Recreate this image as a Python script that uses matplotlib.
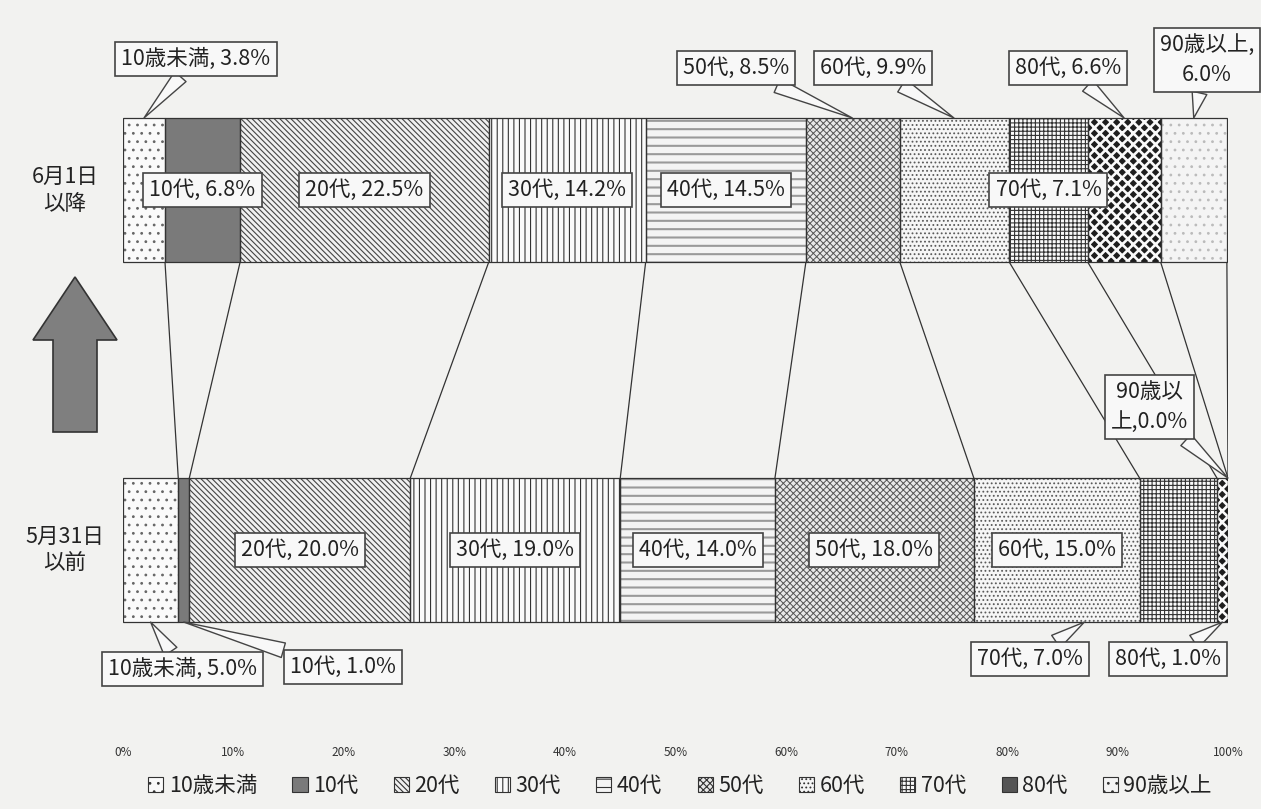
import matplotlib
matplotlib.use("Agg")
import matplotlib.pyplot as plt
from matplotlib.patches import Patch, Polygon
import numpy as np

plt.rcParams['font.family'] = ['Noto Sans CJK JP', 'DejaVu Sans']
plt.rcParams['hatch.linewidth'] = 0.8

# ---- data ----
categories = ['10歳未満', '10代', '20代', '30代', '40代', '50代', '60代', '70代', '80代', '90歳以上']
after_vals = [3.8, 6.8, 22.5, 14.2, 14.5, 8.5, 9.9, 7.1, 6.6, 6.0]     # 6月1日以降
before_vals = [5.0, 1.0, 20.0, 19.0, 14.0, 18.0, 15.0, 7.0, 1.0, 0.0]  # 5月31日以前
row_labels = ['5月31日\n以前', '6月1日\n以降']
xtick_vals = [0, 10, 20, 30, 40, 50, 60, 70, 80, 90, 100]

# ---- styles ----
# (facecolor, hatch, hatchcolor, hatch linewidth)
styles = [
    ('#fafafa', '..', '#666666', 0.8),
    ('#7a7a7a', None, '#7a7a7a', 0.8),
    ('#f0f0f0', '\\\\\\\\\\\\', '#444444', 0.8),
    ('#fafafa', '|||', '#333333', 0.8),
    ('#f4f4f4', '--', '#9a9a9a', 1.5),
    ('#e8e8e8', 'xxxxx', '#555555', 0.7),
    ('#f6f6f6', '....', '#5a5a5a', 0.8),
    ('#fafafa', '++++', '#333333', 0.8),
    ('#1e1e1e', 'xxx', '#fafafa', 1.9),
    ('#f4f4f4', '..', '#bbbbbb', 0.8),
]

W, H = 1261, 809
fig = plt.figure(figsize=(W / 100, H / 100), dpi=100)
bg = '#f2f2f0'
fig.patch.set_facecolor(bg)

ax = fig.add_axes([123 / W, (H - 742) / H, 1105 / W, 682 / H])
ax.set_facecolor('none')
ax.set_xlim(0, 100)
ax.set_ylim(-0.533, 1.361)
for s in ax.spines.values():
    s.set_visible(False)
ax.set_yticks([])
ax.set_xticks(xtick_vals)
ax.set_xticklabels([f'{t}%' for t in xtick_vals], fontsize=8.5, color='#333333')
ax.tick_params(axis='x', length=0, pad=3)

bar_h = 0.4
ypos = [0, 1]
datasets = [before_vals, after_vals]

for y, vals in zip(ypos, datasets):
    left = 0.0
    for i, v in enumerate(vals):
        fc, hatch, hc, hlw = styles[i]
        with plt.rc_context({'hatch.linewidth': hlw}):
            ax.barh(y, v, left=left, height=bar_h, color=fc, edgecolor=hc,
                    hatch=hatch, linewidth=0, zorder=2)
        ax.barh(y, v, left=left, height=bar_h, fill=False, edgecolor='#333333',
                linewidth=0.9, zorder=3)
        left += v

# series lines
cum_after = np.cumsum(after_vals)
cum_before = np.cumsum(before_vals)
for ca, cb in zip(cum_after, cum_before):
    ax.plot([ca, min(cb, 100)], [1 - bar_h / 2, bar_h / 2], color='#333333',
            linewidth=0.9, zorder=1)

box = dict(boxstyle='square,pad=0.28', fc='#f8f8f8', ec='#444444', lw=1.2)
txtkw = dict(fontsize=15.5, color='#222222', ha='center', va='center', zorder=5)


def label_text(cat, v):
    return f'{cat}, {v:.1f}%'

# inside labels
inside_after = [1, 2, 3, 4, 7]
inside_before = [2, 3, 4, 5, 6]
for y, vals, idxs in [(1, after_vals, inside_after), (0, before_vals, inside_before)]:
    cum = np.concatenate([[0], np.cumsum(vals)])
    for i in idxs:
        xc = (cum[i] + cum[i + 1]) / 2
        ax.text(xc, y, label_text(categories[i], vals[i]), bbox=box, **txtkw)

# outside callouts: (row, index, text, box xy, point xy)
callouts = [
    (1, 0, label_text(categories[0], after_vals[0]), (6.6, 1.364), (1.9, 1.2)),
    (1, 5, label_text(categories[5], after_vals[5]), (55.5, 1.339), (66.0, 1.2)),
    (1, 6, label_text(categories[6], after_vals[6]), (67.9, 1.339), (75.2, 1.2)),
    (1, 8, label_text(categories[8], after_vals[8]), (85.5, 1.339), (90.6, 1.2)),
    (1, 9, f'{categories[9]},\n{after_vals[9]:.1f}%', (98.1, 1.361), (96.9, 1.2)),
    (0, 0, label_text(categories[0], before_vals[0]), (5.4, -0.331), (2.5, -0.2)),
    (0, 1, label_text(categories[1], before_vals[1]), (19.9, -0.325), (5.5, -0.2)),
    (0, 7, label_text(categories[7], before_vals[7]), (82.1, -0.303), (87.0, -0.2)),
    (0, 8, label_text(categories[8], before_vals[8]), (94.6, -0.303), (99.5, -0.2)),
    (0, 9, f'{categories[9][:4]}\n{categories[9][4:]},{before_vals[9]:.1f}%', (92.9, 0.397), (100.0, 0.2)),
]
for row, i, txt, bxy, pxy in callouts:
    ax.annotate(txt, xy=pxy, xytext=bxy, bbox=box, annotation_clip=False,
                arrowprops=dict(arrowstyle='wedge,tail_width=0.7,shrink_factor=0.5',
                                fc='#f8f8f8', ec='#444444', lw=1.0,
                                shrinkA=0, shrinkB=0),
                linespacing=1.5, **txtkw)

# row labels
fig.text(65 / W, 1 - 190 / H, row_labels[1], fontsize=15.5, ha='center', va='center',
         color='#222222', linespacing=1.3)
fig.text(65 / W, 1 - 550 / H, row_labels[0], fontsize=15.5, ha='center', va='center',
         color='#222222', linespacing=1.3)

# big up arrow
arrow_px = [(75, 277), (33, 340), (53, 340), (53, 432), (97, 432), (97, 340), (117, 340)]
arrow = Polygon([(x / W, 1 - y / H) for x, y in arrow_px], closed=True,
                transform=fig.transFigure, fc='#7f7f7f', ec='#333333', lw=1.2)
fig.patches.append(arrow)

# legend
handles = []
for i, cat in enumerate(categories):
    fc, hatch, hc, hlw = styles[i]
    handles.append(Patch(facecolor=fc if i not in (8,) else '#555555', edgecolor='#333333',
                         hatch=None if i == 8 else hatch, linewidth=0.8, label=cat))
fig.legend(handles=handles, loc='center', bbox_to_anchor=(680 / W, 1 - 786 / H), ncol=10,
           frameon=False, fontsize=15.5, handlelength=0.7, handleheight=0.7,
           handletextpad=0.25, columnspacing=1.65, labelcolor='#222222')

fig.savefig('out.png', dpi=100, facecolor=bg)
